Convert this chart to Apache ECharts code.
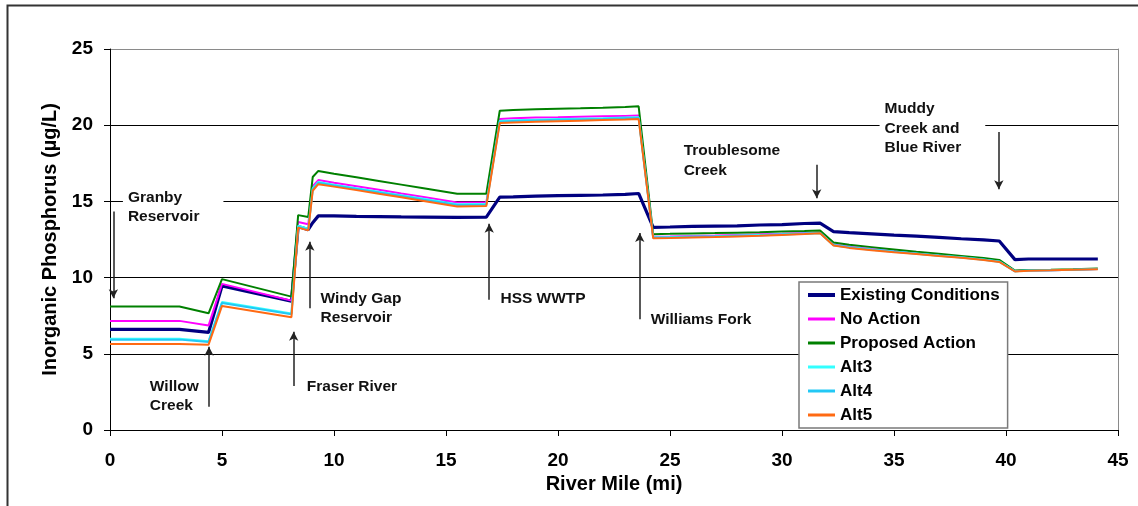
<!DOCTYPE html>
<html>
<head>
<meta charset="utf-8">
<script src="https://cdn.jsdelivr.net/npm/echarts@6/dist/echarts.min.js"></script>
<style>html,body{margin:0;padding:0;background:#fff;}#c{width:1138px;height:506px;}</style>
</head>
<body>
<div id="c"></div>
<script>
// River mile positions of model nodes
const riverMile = [0, 3.1, 4.4, 5.0, 8.1, 8.4, 8.85, 9.05, 9.3, 10, 11, 12, 13, 14, 15.5, 16.8, 17.4, 18, 19, 20, 21, 22, 23, 23.6, 24.25, 25, 26, 27, 28, 29, 30, 31, 31.7, 32.3, 33, 34, 35, 36, 37, 38, 39, 39.7, 40.4, 41, 42, 43, 44.1];

const existingConditions = [6.6, 6.6, 6.4, 9.45, 8.45, 13.35, 13.15, 13.6, 14.05, 14.05, 14.02, 14.0, 13.98, 13.97, 13.95, 13.97, 15.28, 15.3, 15.34, 15.38, 15.4, 15.42, 15.46, 15.52, 13.3, 13.32, 13.36, 13.38, 13.4, 13.45, 13.48, 13.55, 13.57, 13.02, 12.95, 12.87, 12.79, 12.72, 12.64, 12.55, 12.47, 12.4, 11.18, 11.22, 11.22, 11.22, 11.22];
const noAction = [7.16, 7.16, 6.85, 9.59, 8.49, 13.65, 13.5, 16.0, 16.4, 16.23, 16.0, 15.76, 15.52, 15.29, 14.93, 14.93, 20.4, 20.45, 20.5, 20.52, 20.55, 20.58, 20.61, 20.63, 12.68, 12.7, 12.73, 12.76, 12.8, 12.84, 12.87, 12.92, 12.95, 12.17, 12.03, 11.88, 11.74, 11.6, 11.47, 11.34, 11.21, 11.08, 10.43, 10.46, 10.49, 10.52, 10.56];
const proposedAction = [8.1, 8.1, 7.66, 9.9, 8.75, 14.1, 13.97, 16.6, 17.0, 16.82, 16.58, 16.34, 16.1, 15.86, 15.5, 15.5, 20.95, 21.0, 21.05, 21.08, 21.11, 21.15, 21.2, 21.24, 12.85, 12.87, 12.9, 12.92, 12.95, 12.98, 13.02, 13.06, 13.09, 12.3, 12.15, 12.0, 11.85, 11.7, 11.56, 11.42, 11.28, 11.16, 10.46, 10.5, 10.52, 10.55, 10.6];
const alt3 = [5.98, 5.98, 5.83, 8.4, 7.65, 13.4, 13.2, 15.85, 16.28, 16.1, 15.87, 15.63, 15.4, 15.17, 14.82, 14.84, 20.28, 20.32, 20.36, 20.4, 20.43, 20.46, 20.5, 20.52, 12.64, 12.66, 12.69, 12.72, 12.76, 12.8, 12.84, 12.9, 12.93, 12.14, 12.0, 11.85, 11.71, 11.58, 11.45, 11.33, 11.19, 11.06, 10.42, 10.46, 10.49, 10.52, 10.56];
const alt4 = [5.93, 5.93, 5.78, 8.34, 7.6, 13.33, 13.14, 15.78, 16.22, 16.05, 15.82, 15.58, 15.35, 15.11, 14.76, 14.78, 20.22, 20.27, 20.31, 20.35, 20.38, 20.41, 20.45, 20.47, 12.61, 12.63, 12.66, 12.69, 12.73, 12.77, 12.82, 12.88, 12.92, 12.12, 11.98, 11.83, 11.69, 11.56, 11.44, 11.32, 11.17, 11.04, 10.41, 10.46, 10.49, 10.52, 10.56];
const alt5 = [5.65, 5.65, 5.6, 8.14, 7.4, 13.28, 13.1, 15.7, 16.13, 15.97, 15.74, 15.5, 15.27, 15.03, 14.66, 14.7, 20.14, 20.18, 20.22, 20.26, 20.3, 20.34, 20.38, 20.41, 12.58, 12.6, 12.63, 12.66, 12.7, 12.74, 12.8, 12.86, 12.91, 12.1, 11.95, 11.8, 11.67, 11.55, 11.42, 11.3, 11.15, 11.03, 10.4, 10.45, 10.48, 10.52, 10.55];

const seriesNames = ['Existing Conditions', 'No Action', 'Proposed Action', 'Alt3', 'Alt4', 'Alt5'];
const seriesValues = [existingConditions, noAction, proposedAction, alt3, alt4, alt5];
const seriesColors = ['#000080', '#FF00FF', '#008000', '#33FFFF', '#22C8F5', '#FF6A13'];
const seriesWidths = [3.2, 2, 2, 2, 2, 2];
const legendWidths = [4, 3, 3, 3, 3, 3];

const xTicks = [0, 5, 10, 15, 20, 25, 30, 35, 40, 45];
const yTicks = [0, 5, 10, 15, 20, 25];

// Annotation labels: text, river mile of left edge, value of top edge, white background
const labelTexts = ['Granby\nReservoir', 'Willow\nCreek', 'Fraser River', 'Windy Gap\nReservoir', 'HSS WWTP', 'Williams Fork', 'Troublesome\nCreek', 'Muddy\nCreek and\nBlue River'];
const labelMiles = [0.80, 1.78, 8.78, 9.40, 17.43, 24.14, 25.61, 34.58];
const labelValues = [15.89, 3.48, 3.48, 9.27, 9.27, 7.85, 18.96, 21.70];
const labelBackground = [true, false, false, false, false, false, false, true];

// Arrows: river mile, start value, tip value
const arrowMiles = [0.15, 4.42, 8.20, 8.92, 16.93, 23.65, 31.55, 39.68];
const arrowStart = [14.33, 1.53, 2.89, 7.99, 8.54, 7.27, 17.4, 19.55];
const arrowTip = [8.64, 5.47, 6.45, 12.36, 13.53, 12.92, 15.21, 15.8];

const FONT = "'Liberation Sans', Arial, sans-serif";
const chart = echarts.init(document.getElementById('c'), null, {renderer: 'canvas'});

const series = seriesNames.map((n, i) => ({
  name: n,
  type: 'line',
  symbol: 'none',
  data: riverMile.map((m, k) => [m, seriesValues[i][k]]),
  lineStyle: {color: seriesColors[i], width: seriesWidths[i]},
  itemStyle: {color: seriesColors[i]},
  animation: false,
  z: 3 + i
}));

series.push({
  name: 'arrows',
  type: 'line',
  data: [],
  silent: true,
  animation: false,
  markLine: {
    silent: true,
    animation: false,
    symbol: ['none', 'arrow'],
    symbolSize: [7, 9],
    label: {show: false},
    lineStyle: {color: '#222', width: 1.5, type: 'solid'},
    data: arrowMiles.map((m, i) => [{coord: [m, arrowStart[i]]}, {coord: [m, arrowTip[i]]}])
  }
});

chart.setOption({
  backgroundColor: '#fff',
  animation: false,
  grid: {left: 110, right: 20, top: 49, bottom: 76},
  xAxis: {
    type: 'value', min: 0, max: 45, interval: 5,
    name: 'River Mile (mi)', nameLocation: 'middle', nameGap: 44,
    nameTextStyle: {fontFamily: FONT, fontWeight: 'bold', fontSize: 20, color: '#000'},
    axisLine: {lineStyle: {color: '#000', width: 1}},
    axisTick: {show: true, inside: false, length: 6, lineStyle: {color: '#000'}},
    axisLabel: {fontFamily: FONT, fontWeight: 'bold', fontSize: 19, color: '#000', margin: 21,
      formatter: v => xTicks.includes(v) ? String(v) : ''},
    splitLine: {show: false}
  },
  yAxis: [{
    type: 'value', min: 0, max: 25, interval: 5,
    name: 'Inorganic Phosphorus (\u00b5g/L)', nameLocation: 'middle', nameGap: 47,
    nameTextStyle: {fontFamily: FONT, fontWeight: 'bold', fontSize: 20, color: '#000'},
    axisLine: {show: true, lineStyle: {color: '#000', width: 1}},
    axisTick: {show: true, inside: false, length: 6, lineStyle: {color: '#000'}},
    axisLabel: {fontFamily: FONT, fontWeight: 'bold', fontSize: 19, color: '#000', margin: 17,
      formatter: v => yTicks.includes(v) ? String(v) : ''},
    splitLine: {show: true, lineStyle: {color: ['#000', '#000', '#000', '#000', '#000', '#8a8a8a'], width: 1}}
  }, {
    type: 'value', min: 0, max: 25, position: 'right',
    axisLine: {show: true, lineStyle: {color: '#8a8a8a', width: 1}},
    axisTick: {show: false}, axisLabel: {show: false}, splitLine: {show: false}
  }],
  legend: {
    data: seriesNames.map((n, i) => ({name: n, lineStyle: {width: legendWidths[i], color: seriesColors[i]}})),
    orient: 'vertical',
    left: 799, top: 282,
    padding: [3, 8, 3, 7],
    itemWidth: 27, itemHeight: 14, itemGap: 4,
    itemStyle: {opacity: 0},
    backgroundColor: '#fff',
    borderColor: '#7a7a7a', borderWidth: 1.5,
    textStyle: {fontFamily: FONT, fontWeight: 'bold', fontSize: 17, color: '#000', lineHeight: 20},
    selectedMode: false
  },
  series: series
});

function drawGraphics() {
  const g = [];
  g.push({
    type: 'polyline', silent: true, z: 100,
    shape: {points: [[7.5, 506], [7.5, 5.5], [1138, 5.5]]},
    style: {stroke: '#333', lineWidth: 2, fill: null}
  });
  labelTexts.forEach((t, i) => {
    const p = chart.convertToPixel({gridIndex: 0}, [labelMiles[i], labelValues[i]]);
    const bg = labelBackground[i];
    const padL = bg ? 5 : 0, padT = bg ? 1 : 0;
    g.push({
      type: 'text', silent: true, z: 50,
      x: p[0] - padL, y: p[1] - padT,
      style: {
        text: t,
        font: "bold 15.5px " + FONT,
        fill: '#111',
        lineHeight: 19.5,
        align: 'left', verticalAlign: 'top',
        backgroundColor: bg ? '#fff' : null,
        padding: bg ? [1, 24, 1, 5] : 0
      }
    });
  });
  chart.setOption({graphic: g});
}
drawGraphics();
</script>
</body>
</html>
